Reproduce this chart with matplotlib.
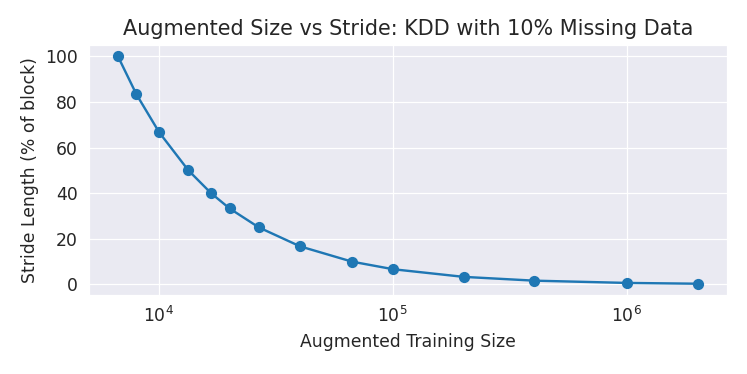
import numpy as np
import seaborn as sns
import matplotlib
matplotlib.use("Agg")
from matplotlib import pyplot as plt

# augmented training size vs stride (% of block)
aug_size = [6700, 8040, 10050, 13400, 16750, 20100, 26800, 40200, 67000,
            100500, 201000, 402000, 1005000, 2010000]
stride = [100, 83.3, 66.7, 50, 40, 33.3, 25, 16.7, 10, 6.67, 3.33, 1.67, 0.67, 0.33]

sns.set_style('darkgrid')

fig, ax = plt.subplots(figsize=(747/115, 374/115), dpi=115)
ax.plot(aug_size, stride, marker='o', color='#1f77b4')
ax.set_xscale('log')
ax.minorticks_off()
ax.grid(True, which='major', color='white')
ax.tick_params(labelsize=10.8)

ax.set_xlabel('Augmented Training Size', fontsize=10.8)
ax.set_ylabel('Stride Length (% of block)', fontsize=10.8)
ax.set_title('Augmented Size vs Stride: KDD with 10% Missing Data', fontsize=13)

fig.subplots_adjust(left=0.119, right=0.973, top=0.88, bottom=0.211)
plt.savefig('out.png', dpi=115)
